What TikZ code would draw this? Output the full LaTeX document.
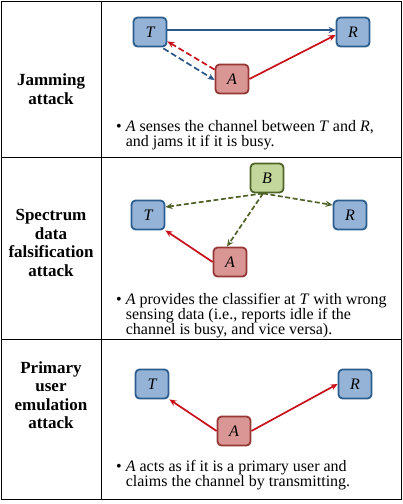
\documentclass[tikz,border=0pt]{standalone}
\usepackage{fontspec}
\setmainfont{Liberation Serif}
\usetikzlibrary{arrows.meta}
\definecolor{bfill}{HTML}{95B3D7}
\definecolor{bdraw}{HTML}{2C5D8F}
\definecolor{rfill}{HTML}{D99694}
\definecolor{rdraw}{HTML}{953735}
\definecolor{gfill}{HTML}{C3D69B}
\definecolor{gdraw}{HTML}{4F6228}
\definecolor{rline}{HTML}{C8101A}
\definecolor{bline}{HTML}{2A568A}
\begin{document}
\begin{tikzpicture}[x=1pt,y=-1pt,
  box/.style={rounded corners=4pt,line width=1.8pt,minimum width=33pt,minimum height=29pt,inner sep=0pt,font=\fontsize{16}{16}\selectfont\itshape},
  bbox/.style={box,fill=bfill,draw=bdraw},
  rbox/.style={box,fill=rfill,draw=rdraw},
  gbox/.style={box,fill=gfill,draw=gdraw},
  arr/.style={line width=1.7pt,-{Stealth[length=7pt,width=6pt]}},
  redarr/.style={arr,draw=rline},
  bluearr/.style={arr,draw=bline},
  greenarr/.style={arr,draw=gdraw,dash pattern=on 5pt off 2.5pt},
  label/.style={font=\fontsize{17}{18.5}\selectfont\bfseries,align=center},
  desc/.style={font=\fontsize{16}{15}\selectfont,align=left,anchor=north west,inner sep=0pt},
  grid/.style={line width=1pt,draw=black}]
\useasboundingbox (0,0) rectangle (403,504);
% table
\draw[grid] (1,1) rectangle (401,499);
\draw[grid] (101,1) -- (101,499);
\draw[grid] (1,157) -- (401,157);
\draw[grid] (1,339) -- (401,339);
% labels
\node[label] (l1) at (51,89) {Jamming\\attack};
\node[label] (l2) at (51,243) {Spectrum\\data\\falsification\\attack};
\node[label] (l3) at (51,395) {Primary\\user\\emulation\\attack};
% panel 1
\node[bbox] (T1) at (150,32) {T};
\node[bbox] (R1) at (353,32) {R};
\node[rbox] (A1) at (232,79) {A};
\draw[bluearr] ([yshift=2pt]T1.east) -- ([yshift=2pt]R1.west);
\draw[redarr] (A1.east) -- ([yshift=-3pt]R1.west);
\draw[redarr,dash pattern=on 6pt off 3pt] ([xshift=0pt,yshift=-6pt]A1.north west) -- ([yshift=6pt]T1.south east);
\draw[bluearr,dash pattern=on 6pt off 3pt] ([xshift=-4pt,yshift=-1pt]T1.south east) -- ([yshift=-1pt]A1.west);
\node[desc] (d1) at (116,120) {\textbullet\ \textit{A} senses the channel between \textit{T} and \textit{R},\\\phantom{\textbullet\ }and jams it if it is busy.};
% panel 2
\node[gbox] (B2) at (267,178) {B};
\node[bbox] (T2) at (148,215) {T};
\node[bbox] (R2) at (350,215) {R};
\node[rbox] (A2) at (230,262) {A};
\draw[greenarr] ([xshift=-4pt]B2.south) -- ([yshift=8pt]T2.east);
\draw[greenarr] ([xshift=-4pt]B2.south) -- ([yshift=10pt]R2.west);
\draw[greenarr] ([xshift=-4pt]B2.south) -- ([xshift=-3pt]A2.north);
\draw[redarr] (A2.west) -- (T2.south east);
\node[desc] (d2) at (116,293) {\textbullet\ \textit{A} provides the classifier at \textit{T} with wrong\\\phantom{\textbullet\ }sensing data (i.e., reports idle if the\\\phantom{\textbullet\ }channel is busy, and vice versa).};
% panel 3
\node[bbox] (T3) at (152,384) {T};
\node[bbox] (R3) at (355,384) {R};
\node[rbox] (A3) at (234,431) {A};
\draw[redarr] (A3.west) -- (T3.south east);
\draw[redarr] (A3.east) -- (R3.west);
\node[desc] (d3) at (116,460) {\textbullet\ \textit{A} acts as if it is a primary user and\\\phantom{\textbullet\ }claims the channel by transmitting.};
\end{tikzpicture}
\end{document}
